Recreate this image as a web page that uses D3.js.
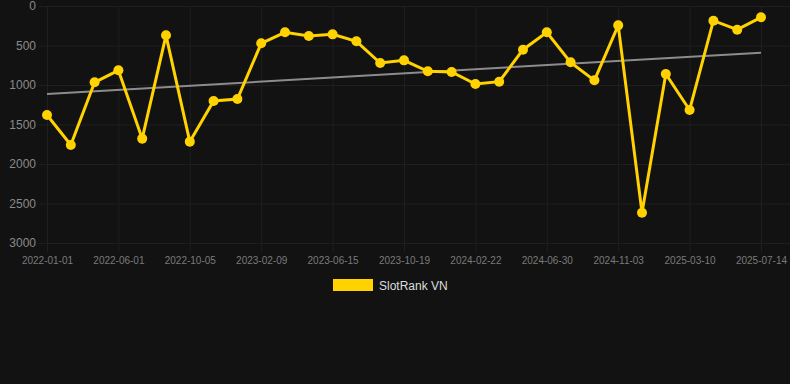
<!DOCTYPE html>
<html lang="en">
<head>
    <meta charset="UTF-8">
    <title>SlotRank VN</title>
    <style>
        html, body { margin: 0; padding: 0; background: #121212; }
        svg { display: block; }
    </style>
</head>
<body>
<script src="https://cdn.jsdelivr.net/npm/d3@7"></script>
<script>
    // ranks, one point per period
    var rankValues = [1380, 1759, 966, 814, 1679, 371, 1717, 1203, 1177, 472,
        333, 380, 359, 447, 722, 688, 827, 835, 987, 958,
        553, 333, 713, 941, 245, 2616, 861, 1316, 186, 300, 143];
    // only every third period carries a date label
    var tickLabels = ['2022-01-01', '2022-06-01', '2022-10-05', '2023-02-09', '2023-06-15',
        '2023-10-19', '2024-02-22', '2024-06-30', '2024-11-03', '2025-03-10', '2025-07-14'];
    var yTicks = [0, 500, 1000, 1500, 2000, 2500, 3000];
    var trendEnds = [1114, 591];
    var seriesName = 'SlotRank VN';

    var width = 790, height = 384;
    var plotLeft = 47, plotTop = 6, plotBottom = 243, lastX = 761;
    var yellow = '#ffd200', grid = '#1f1f1f';
    var font = 'Liberation Sans, Arial, sans-serif';

    var svg = d3.select('body').append('svg')
            .attr('width', width)
            .attr('height', height)
            .style('background', '#121212');

    var x = d3.scaleLinear().domain([0, rankValues.length - 1]).range([plotLeft, lastX]);
    var y = d3.scaleLinear().domain([0, 3000]).range([plotTop, plotBottom]);

    // horizontal grid + y labels
    var yAxis = d3.axisLeft(y).tickValues(yTicks).tickFormat(d3.format('d'))
            .tickSize(-(width - plotLeft)).tickPadding(11);
    var gy = svg.append('g').attr('transform', 'translate(' + plotLeft + ',0)').call(yAxis);
    gy.select('.domain').remove();
    gy.selectAll('line').attr('stroke', grid).attr('x1', -8);
    gy.selectAll('text')
            .attr('fill', '#8a8a8a')
            .attr('font-family', font)
            .attr('font-size', '12px');

    // vertical grid at every labelled period + x labels
    var tickIdx = tickLabels.map(function (d, i) { return i * 3; });
    var xAxis = d3.axisBottom(x).tickValues(tickIdx)
            .tickFormat(function (d, i) { return tickLabels[i]; })
            .tickSize(-(plotBottom - plotTop)).tickPadding(14);
    var gx = svg.append('g').attr('transform', 'translate(0,' + plotBottom + ')').call(xAxis);
    gx.select('.domain').remove();
    gx.selectAll('line').attr('stroke', grid).attr('y1', 9);
    gx.selectAll('text')
            .attr('fill', '#7a7a7a')
            .attr('font-family', font)
            .attr('font-size', '10px');

    // trend line
    svg.append('line')
            .attr('x1', x(0)).attr('y1', y(trendEnds[0]))
            .attr('x2', x(rankValues.length - 1)).attr('y2', y(trendEnds[1]))
            .attr('stroke', '#8c8c8c')
            .attr('stroke-width', 2);

    // series
    var line = d3.line()
            .x(function (d, i) { return x(i); })
            .y(function (d) { return y(d); });

    svg.append('path')
            .datum(rankValues)
            .attr('d', line)
            .attr('fill', 'none')
            .attr('stroke', yellow)
            .attr('stroke-width', 3)
            .attr('stroke-linejoin', 'miter');

    svg.selectAll('circle.pt')
            .data(rankValues)
            .enter()
            .append('circle')
            .attr('class', 'pt')
            .attr('cx', function (d, i) { return x(i); })
            .attr('cy', function (d) { return y(d); })
            .attr('r', 5)
            .attr('fill', yellow);

    // legend
    var lg = svg.append('g').attr('transform', 'translate(333,279)');
    lg.append('rect').attr('width', 40).attr('height', 12).attr('fill', yellow);
    lg.append('text')
            .attr('x', 46).attr('y', 10.5)
            .text(seriesName)
            .attr('fill', '#dddddd')
            .attr('font-family', font)
            .attr('font-size', '12px');
</script>
</body>
</html>
